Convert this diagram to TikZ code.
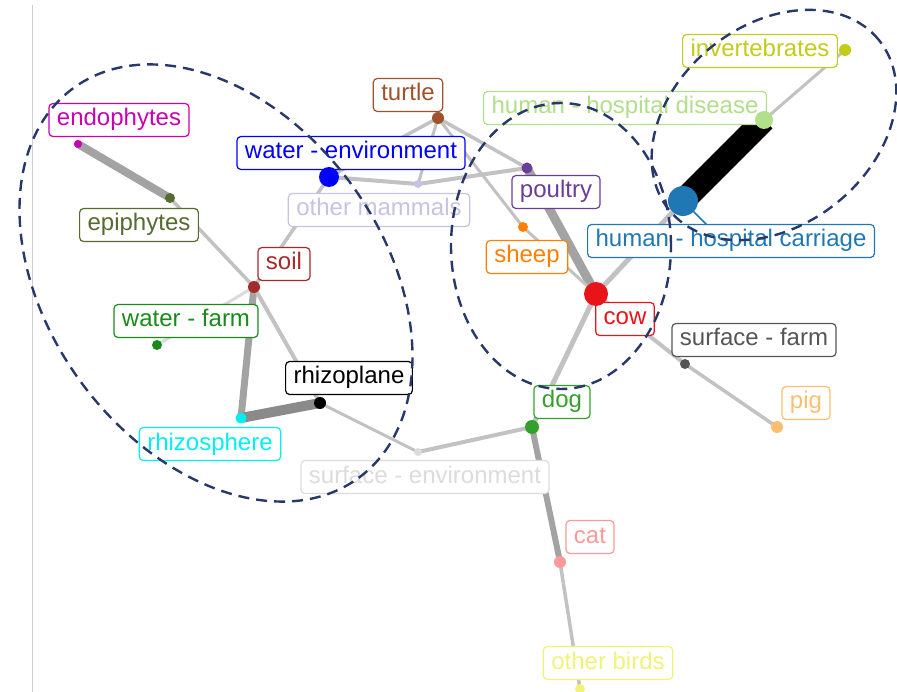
\documentclass[tikz,border=0pt]{standalone}
\usepackage{fontspec}
\setmainfont{Liberation Sans}
\usepackage{xcolor}
\definecolor{endoMag}{HTML}{C800B4}
\definecolor{epiGreen}{HTML}{556B2F}
\definecolor{turtleBrown}{HTML}{A0522D}
\definecolor{waterBlue}{HTML}{0000FF}
\definecolor{mammalLav}{HTML}{C8C2E4}
\definecolor{soilRed}{HTML}{A52A2A}
\definecolor{farmGreen}{HTML}{1A8A1A}
\definecolor{rhizoCyan}{HTML}{00F0F0}
\definecolor{surfEnv}{HTML}{DCDCDC}
\definecolor{diseaseGreen}{HTML}{B2DF8A}
\definecolor{carriageBlue}{HTML}{1F78B4}
\definecolor{invertYellow}{HTML}{C2CC1A}
\definecolor{poultryPurple}{HTML}{6A3D9A}
\definecolor{sheepOrange}{HTML}{FF7F00}
\definecolor{cowRed}{HTML}{E8141A}
\definecolor{surfFarm}{HTML}{555555}
\definecolor{pigOrange}{HTML}{FDBF6F}
\definecolor{dogGreen}{HTML}{33A02C}
\definecolor{catPink}{HTML}{FB9A99}
\definecolor{birdYellow}{HTML}{F2F27A}
\definecolor{edgeGray}{HTML}{C2C2C2}
\definecolor{edgeFaint}{HTML}{DADADA}
\definecolor{edgeMid}{HTML}{A3A3A3}
\definecolor{edgeDark}{HTML}{8A8A8A}
\definecolor{groupNavy}{HTML}{27386B}
\definecolor{axisGray}{HTML}{CFCFCF}
\pgfdeclarelayer{edges}
\pgfdeclarelayer{labels}
\pgfsetlayers{edges,labels,main}

\begin{document}
\begin{tikzpicture}[
        x=1pt, y=-1pt,
        dot/.style={circle, fill=#1, inner sep=0pt},
        tag/.style={draw=#1, text=#1, fill=white, rounded corners=4pt, line width=1.2pt, inner xsep=8pt, inner ysep=5.5pt, text height=17pt, text depth=5pt, font=\fontsize{24}{28}\selectfont},
        link/.style={line width=#1, draw=edgeGray, line cap=round},
        group/.style={draw=groupNavy, line width=2.4pt, dash pattern=on 11pt off 7pt}
    ]
        \useasboundingbox (0,0) rectangle (897,692);
        \draw[axisGray, line width=0.8pt] (32,5) -- (32,692);

        % Vertices
        \node[dot=endoMag, minimum size=8pt] (endo) at (78,144) {};
        \node[dot=epiGreen, minimum size=10pt] (epi) at (170,198) {};
        \node[dot=soilRed, minimum size=12pt] (soil) at (254,287) {};
        \node[dot=farmGreen, minimum size=10pt] (wfarm) at (157,345) {};
        \node[dot=rhizoCyan, minimum size=11pt] (rsph) at (241,418) {};
        \node[dot=black, minimum size=12pt] (rpla) at (320,403) {};
        \node[dot=surfEnv, minimum size=8pt] (senv) at (418,452) {};
        \node[dot=waterBlue, minimum size=20pt] (wenv) at (329,177) {};
        \node[dot=mammalLav, minimum size=8pt] (mamm) at (418,184) {};
        \node[dot=turtleBrown, minimum size=12pt] (turt) at (438,118) {};
        \node[dot=poultryPurple, minimum size=11pt] (poul) at (527,168) {};
        \node[dot=sheepOrange, minimum size=10pt] (shep) at (523,227) {};
        \node[dot=cowRed, minimum size=24pt] (cow) at (596,294) {};
        \node[dot=carriageBlue, minimum size=30pt] (hcar) at (683,201) {};
        \node[dot=diseaseGreen, minimum size=18pt] (hdis) at (764,120) {};
        \node[dot=invertYellow, minimum size=12pt] (inv) at (845,50) {};
        \node[dot=surfFarm, minimum size=10pt] (sfarm) at (685,364) {};
        \node[dot=pigOrange, minimum size=12pt] (pig) at (777,427) {};
        \node[dot=dogGreen, minimum size=14pt] (dog) at (532,427) {};
        \node[dot=catPink, minimum size=12pt] (cat) at (560,562) {};
        \node[dot=birdYellow, minimum size=10pt] (bird) at (580,689) {};
        \coordinate (hcarTip) at (707,225);

        % Edges
        \begin{pgfonlayer}{edges}
        \draw[link=8pt, draw=edgeMid] (endo.center) -- (epi.center);
        \draw[link=3.5pt] (epi.center) -- (soil.center);
        \draw[link=3pt, draw=edgeFaint] (wfarm.center) -- (soil.center);
        \draw[link=3.5pt] (soil.center) -- (wenv.center);
        \draw[link=7pt, draw=edgeMid] (soil.center) -- (rsph.center);
        \draw[link=4pt] (soil.center) -- (rpla.center);
        \draw[link=10pt, draw=edgeDark] (rsph.center) -- (rpla.center);
        \draw[link=3pt] (rpla.center) -- (senv.center);
        \draw[link=4pt] (senv.center) -- (dog.center);
        \draw[link=6pt, draw=edgeMid] (dog.center) -- (cat.center);
        \draw[link=3.5pt] (cat.center) -- (bird.center);
        \draw[link=5pt] (dog.center) -- (cow.center);
        \draw[link=9pt, draw=edgeMid] (cow.center) -- (poul.center);
        \draw[link=3pt] (cow.center) -- (shep.center);
        \draw[link=5pt] (cow.center) -- (hcar.center);
        \draw[link=4pt] (cow.center) -- (sfarm.center);
        \draw[link=3.5pt] (sfarm.center) -- (pig.center);
        \draw[link=3pt] (turt.center) -- (shep.center);
        \draw[link=3.5pt] (turt.center) -- (poul.center);
        \draw[link=3pt] (turt.center) -- (mamm.center);
        \draw[link=3.5pt] (turt.center) -- (wenv.center);
        \draw[link=4pt] (wenv.center) -- (mamm.center);
        \draw[link=4pt] (mamm.center) -- (poul.center);
        \draw[link=24pt, draw=black, line cap=butt] (hcar.center) -- (hdis.center);
        \draw[link=3pt] (hdis.center) -- (inv.center);
        \draw[carriageBlue, line width=1.5pt] (hcar.center) -- (hcarTip);
        \end{pgfonlayer}

        % Labels
        \begin{pgfonlayer}{labels}
        \node[tag=endoMag] (endoL) at (119,120) {endophytes};
        \node[tag=epiGreen] (epiL) at (139,225) {epiphytes};
        \node[tag=turtleBrown] (turtL) at (408,95) {turtle};
        \node[tag=waterBlue] (wenvL) at (351,153) {water - environment};
        \node[tag=mammalLav] (mammL) at (379,210) {other mammals};
        \node[tag=soilRed] (soilL) at (284,264) {soil};
        \node[tag=farmGreen] (wfarmL) at (186,321) {water - farm};
        \node[tag=black] (rplaL) at (349,378) {rhizoplane};
        \node[tag=rhizoCyan] (rsphL) at (210,444) {rhizosphere};
        \node[tag=surfEnv] (senvL) at (425,477) {surface - environment};
        \node[tag=diseaseGreen] (hdisL) at (625,108) {human - hospital disease};
        \node[tag=invertYellow] (invL) at (760,51) {invertebrates};
        \node[tag=poultryPurple] (poulL) at (556,192) {poultry};
        \node[tag=sheepOrange] (shepL) at (527,257) {sheep};
        \node[tag=carriageBlue] (hcarL) at (731,241) {human - hospital carriage};
        \node[tag=cowRed] (cowL) at (625,319) {cow};
        \node[tag=surfFarm] (sfarmL) at (754,340) {surface - farm};
        \node[tag=pigOrange] (pigL) at (806,403) {pig};
        \node[tag=dogGreen] (dogL) at (562,402) {dog};
        \node[tag=catPink] (catL) at (590,537) {cat};
        \node[tag=birdYellow] (birdL) at (608,663) {other birds};
        \end{pgfonlayer}

        % Groups
        \draw[group, shift={(216,283)}, rotate=-53.8] (0,0) ellipse [x radius=241.5pt, y radius=167.5pt];
        \draw[group] (561,246) ellipse [x radius=110pt, y radius=143pt];
        \draw[group, shift={(774,125)}, rotate=39] (0,0) ellipse [x radius=135pt, y radius=100pt];
    \end{tikzpicture}
\end{document}
